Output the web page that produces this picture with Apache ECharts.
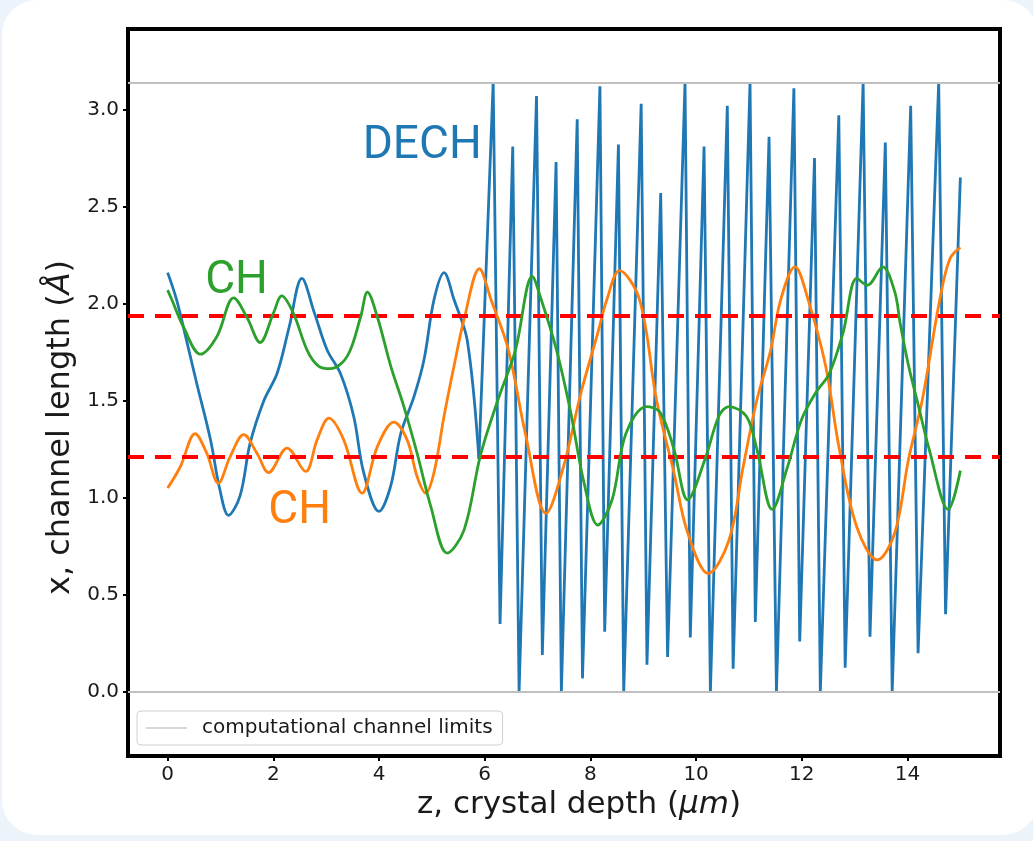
<!DOCTYPE html>
<html>
<head>
<meta charset="utf-8">
<script src="https://cdn.jsdelivr.net/npm/echarts@6/dist/echarts.min.js"></script>
<style>
  html, body { margin: 0; padding: 0; background: #edf3fb; }
  #card { position: absolute; left: 2px; top: 0; width: 1036px; height: 835px; background: #ffffff; border-radius: 35px; }
  #chart { position: absolute; left: 0; top: 0; width: 1033px; height: 841px; }
</style>
</head>
<body>
<div id="card"></div>
<div id="chart"></div>
<script>
// ---------- data ----------
const xTicks = [0, 2, 4, 6, 8, 10, 12, 14];
const yTicks = [0.0, 0.5, 1.0, 1.5, 2.0, 2.5, 3.0];

// DECH (blue) - slow smooth part
const dechSlowZ = [0, 0.17, 0.35, 0.55, 0.81, 0.99, 1.15, 1.37, 1.56, 1.82, 2.07, 2.3, 2.54, 2.78, 3.02, 3.27, 3.52, 3.71, 4.0, 4.22, 4.41, 4.66, 4.85, 5.04, 5.23, 5.42, 5.67, 5.89];
const dechSlowV = [2.16, 2.02, 1.82, 1.59, 1.30, 1.04, 0.91, 1.01, 1.28, 1.50, 1.64, 1.88, 2.13, 1.95, 1.76, 1.64, 1.42, 1.13, 0.93, 1.06, 1.33, 1.52, 1.71, 2.02, 2.16, 2.02, 1.81, 1.20];
// DECH (blue) - fast oscillating part
const dechFastZ = [5.89, 6.16, 6.29, 6.53, 6.65, 6.98, 7.09, 7.35, 7.45, 7.75, 7.85, 8.18, 8.27, 8.53, 8.63, 8.96, 9.07, 9.33, 9.46, 9.79, 9.89, 10.15, 10.27, 10.59, 10.70, 11.02, 11.12, 11.38, 11.52, 11.85, 11.96, 12.24, 12.35, 12.70, 12.82, 13.16, 13.29, 13.58, 13.71, 14.06, 14.20, 14.59, 14.72, 15.0];
const dechFastV = [1.20, 3.14, 0.35, 2.81, 0.0, 3.07, 0.19, 2.73, 0.0, 2.95, 0.07, 3.12, 0.31, 2.82, 0.0, 3.03, 0.14, 2.57, 0.18, 3.14, 0.28, 2.81, 0.0, 3.02, 0.12, 3.14, 0.36, 2.86, 0.0, 3.11, 0.26, 2.75, 0.0, 2.97, 0.125, 3.14, 0.285, 2.83, 0.0, 3.02, 0.20, 3.14, 0.40, 2.65];

// CH (green)
const chGreenZ = [0, 0.08, 0.3, 0.62, 0.93, 1.25, 1.5, 1.75, 2.0, 2.16, 2.38, 2.64, 2.85, 3.08, 3.40, 3.65, 3.78, 3.97, 4.22, 4.47, 4.72, 4.98, 5.29, 5.61, 5.92, 6.25, 6.58, 6.90, 7.07, 7.36, 7.62, 7.88, 8.14, 8.41, 8.67, 9.06, 9.32, 9.58, 9.84, 10.17, 10.43, 10.62, 10.95, 11.15, 11.44, 11.73, 11.99, 12.26, 12.52, 12.78, 13.04, 13.24, 13.53, 13.76, 13.86, 14.02, 14.21, 14.41, 14.77, 15.0];
const chGreenV = [2.07, 2.02, 1.88, 1.74, 1.83, 2.03, 1.93, 1.80, 1.95, 2.04, 1.95, 1.76, 1.68, 1.665, 1.73, 1.93, 2.06, 1.93, 1.68, 1.47, 1.23, 0.955, 0.715, 0.835, 1.22, 1.505, 1.76, 2.14, 2.02, 1.76, 1.45, 1.076, 0.86, 0.99, 1.33, 1.47, 1.44, 1.25, 0.99, 1.20, 1.42, 1.47, 1.42, 1.25, 0.94, 1.16, 1.40, 1.54, 1.64, 1.85, 2.13, 2.095, 2.19, 2.06, 1.90, 1.68, 1.47, 1.25, 0.94, 1.14];

// CH (orange)
const chOrangeZ = [0, 0.24, 0.52, 0.74, 0.96, 1.18, 1.44, 1.69, 1.91, 2.26, 2.61, 2.83, 3.05, 3.33, 3.68, 3.97, 4.28, 4.53, 4.72, 4.88, 5.04, 5.23, 5.42, 5.61, 5.90, 6.12, 6.45, 6.77, 7.16, 7.49, 7.82, 8.14, 8.31, 8.55, 8.93, 9.25, 9.58, 9.84, 10.23, 10.62, 10.89, 11.15, 11.41, 11.60, 11.87, 12.12, 12.45, 12.71, 13.04, 13.43, 13.76, 14.02, 14.28, 14.61, 14.80, 15.0];
const chOrangeV = [1.05, 1.16, 1.33, 1.23, 1.075, 1.21, 1.325, 1.23, 1.13, 1.256, 1.136, 1.30, 1.41, 1.30, 1.024, 1.265, 1.39, 1.30, 1.11, 1.024, 1.13, 1.42, 1.68, 1.92, 2.18, 2.02, 1.76, 1.33, 0.92, 1.16, 1.54, 1.85, 2.02, 2.17, 2.02, 1.505, 1.13, 0.82, 0.61, 0.78, 1.16, 1.505, 1.76, 2.02, 2.19, 2.02, 1.68, 1.25, 0.85, 0.68, 0.82, 1.20, 1.505, 2.02, 2.23, 2.29];

// horizontal reference lines
const channelLimits = [0.0, 3.1416];
const thresholds = [1.94, 1.205];

// text annotations (data coordinates of left/middle anchor)
const annotTexts = ['DECH', 'CH', 'CH'];
const annotZ = [3.69, 0.71, 1.905];
const annotV = [2.81, 2.115, 0.93];

// ---------- build ----------
const zip = (a, b) => a.map((v, i) => [v, b[i]]);
const BLUE = '#1f77b4', ORANGE = '#ff7f0e', GREEN = '#2ca02c';
const annotColors = [BLUE, GREEN, ORANGE];
const TXT = '#1a1a1a';
const FONT = 'DejaVu Sans';
const LW = 2.8;

const chart = echarts.init(document.getElementById('chart'), null, { renderer: 'canvas' });
chart.setOption({
  animation: false,
  backgroundColor: 'transparent',
  textStyle: { fontFamily: FONT },
  grid: { left: 128, top: 29, width: 872, height: 727, show: true, borderColor: '#000', borderWidth: 4, backgroundColor: '#fff' },
  legend: {
    left: 137, top: 711,
    data: [{ name: 'computational channel limits', icon: 'path://M0,0H40V1H0Z' }],
    itemWidth: 41, itemHeight: 1.5,
    padding: [7, 10, 7, 9],
    borderColor: '#d0d0d0', borderWidth: 1, borderRadius: 4,
    backgroundColor: 'rgba(255,255,255,0.85)',
    textStyle: { fontFamily: FONT, fontSize: 20, color: TXT, padding: [0, 0, 0, 10] }
  },
  xAxis: {
    type: 'value', min: -0.75, max: 15.75,
    name: '{n|z, crystal depth (}{i|μm}{n|)}',
    nameLocation: 'middle', nameGap: 30,
    nameTextStyle: { padding: [0, 0, 0, 30], rich: {
      n: { fontFamily: FONT, fontSize: 31, color: TXT },
      i: { fontFamily: FONT, fontSize: 31, fontStyle: 'italic', color: TXT }
    } },
    axisLine: { show: false, onZero: false },
    splitLine: { show: false },
    axisTick: { show: true, customValues: xTicks, length: 5, inside: false, lineStyle: { color: '#000', width: 2 } },
    axisLabel: { customValues: xTicks, fontFamily: FONT, fontSize: 20, color: TXT, margin: 9, formatter: v => String(v) }
  },
  yAxis: {
    type: 'value', min: -0.33, max: 3.415,
    name: '{n|x, channel length (}{i|Å}{n|)}',
    nameLocation: 'middle', nameGap: 50, nameRotate: 90,
    nameTextStyle: { padding: [0, 70, 0, 0], rich: {
      n: { fontFamily: FONT, fontSize: 32, color: TXT },
      i: { fontFamily: FONT, fontSize: 32, fontStyle: 'italic', color: TXT }
    } },
    axisLine: { show: false, onZero: false },
    splitLine: { show: false },
    axisTick: { show: true, customValues: yTicks, length: 5, inside: false, lineStyle: { color: '#000', width: 2 } },
    axisLabel: { customValues: yTicks, fontFamily: FONT, fontSize: 20, color: TXT, margin: 9, formatter: v => v.toFixed(1) }
  },
  series: [
    {
      name: 'computational channel limits', type: 'line', data: [], symbol: 'none',
      color: '#b0b0b0', lineStyle: { color: '#b0b0b0', width: 1.5 }, z: 1,
      markLine: {
        silent: true, symbol: 'none', label: { show: false },
        lineStyle: { color: '#c0c0c0', width: 2, type: 'solid' },
        data: channelLimits.map(v => ({ yAxis: v }))
      }
    },
    { name: 'dech-slow', type: 'line', data: zip(dechSlowZ, dechSlowV), symbol: 'none', smooth: 0.35, lineStyle: { color: BLUE, width: LW }, color: BLUE, z: 3 },
    { name: 'dech-fast', type: 'line', data: zip(dechFastZ, dechFastV), symbol: 'none', smooth: false, lineStyle: { color: BLUE, width: LW }, color: BLUE, z: 3 },
    { name: 'ch-orange', type: 'line', data: zip(chOrangeZ, chOrangeV), symbol: 'none', smooth: 0.35, lineStyle: { color: ORANGE, width: LW }, color: ORANGE, z: 4 },
    { name: 'ch-green', type: 'line', data: zip(chGreenZ, chGreenV), symbol: 'none', smooth: 0.35, lineStyle: { color: GREEN, width: LW }, color: GREEN, z: 5 },
    {
      name: 'thresholds', type: 'line', data: [], symbol: 'none', z: 10,
      markLine: {
        silent: true, symbol: 'none', label: { show: false },
        lineStyle: { color: '#ff0000', width: 4, type: [16, 11] },
        data: thresholds.map(v => ({ yAxis: v }))
      }
    },
    {
      name: 'annotations', type: 'scatter', symbolSize: 0, z: 11, silent: true,
      itemStyle: { opacity: 1 },
      data: annotTexts.map((t, i) => ({
        value: [annotZ[i], annotV[i]], name: t,
        label: { color: annotColors[i] }
      })),
      label: {
        show: true, position: 'right', distance: 0, opacity: 1,
        textBorderWidth: 0, textShadowBlur: 0,
        formatter: p => p.name,
        fontFamily: 'Roboto', fontSize: 46, fontWeight: 'normal'
      }
    }
  ]
});
</script>
</body>
</html>
